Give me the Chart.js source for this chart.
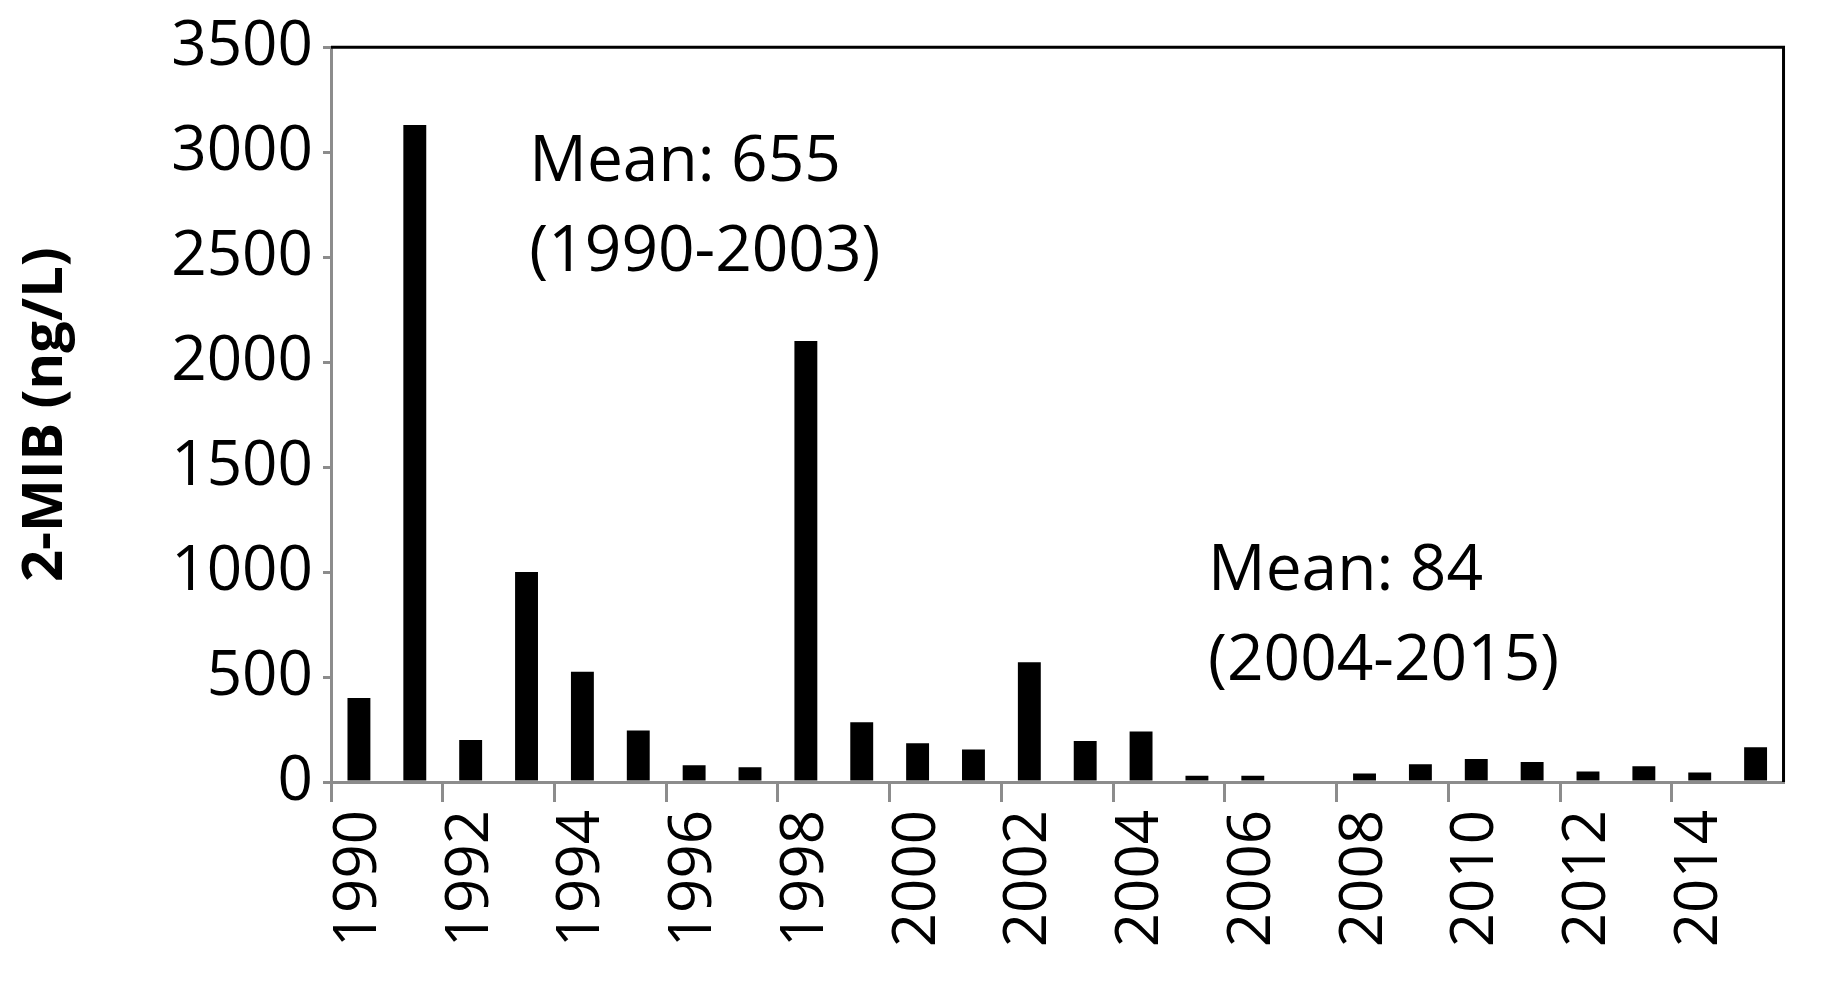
<!DOCTYPE html>
<html>
<head>
<meta charset="utf-8">
<script src="https://cdn.jsdelivr.net/npm/chart.js@4"></script>
<style>
  html, body { margin: 0; background: #fff; }
  canvas { display: block; }
</style>
</head>
<body>
<canvas id="c" width="1836" height="984"></canvas>
<script>
const years = ['1990','1991','1992','1993','1994','1995','1996','1997','1998','1999','2000','2001','2002',
  '2003','2004','2005','2006','2007','2008','2009','2010','2011','2012','2013','2014','2015'];
const mib = [400, 3130, 200, 1000, 525, 245, 80, 70, 2100, 285, 185, 155, 570,
  195, 240, 30, 30, 0, 40, 85, 110, 95, 50, 75, 45, 165];
const notes = [
  { lines: ['Mean: 655', '(1990-2003)'], at: 3.05, y: 2950 },
  { lines: ['Mean: 84', '(2004-2015)'], at: 15.2, y: 1000 }
];

const FONT = '"Open Sans", "Liberation Sans", sans-serif';
const AXIS_GRAY = '#8c8c8c';

// black frame on top and right, and the two text notes
const extras = {
  id: 'extras',
  afterDraw(chart) {
    const { ctx, chartArea: a, scales } = chart;
    ctx.save();
    ctx.strokeStyle = '#000';
    ctx.lineWidth = 3;
    ctx.beginPath();
    ctx.moveTo(a.left, a.top);
    ctx.lineTo(a.right, a.top);
    ctx.lineTo(a.right, a.bottom);
    ctx.stroke();
    ctx.fillStyle = '#000';
    ctx.font = '64px ' + FONT;
    ctx.textBaseline = 'middle';
    const step = scales.x.getPixelForValue(1) - scales.x.getPixelForValue(0);
    notes.forEach(n => {
      const x = scales.x.getPixelForValue(0) + n.at * step;
      const y = scales.y.getPixelForValue(n.y);
      n.lines.forEach((t, i) => ctx.fillText(t, x, y + i * 90));
    });
    ctx.restore();
  }
};

new Chart(document.getElementById('c'), {
  type: 'bar',
  data: {
    labels: years,
    datasets: [{ data: mib, backgroundColor: '#000', barPercentage: 0.41, categoryPercentage: 1 }]
  },
  options: {
    responsive: false,
    animation: false,
    layout: { padding: { top: 43, right: 21, left: 0, bottom: 0 } },
    plugins: { legend: { display: false }, tooltip: { enabled: false } },
    scales: {
      x: {
        offset: true,
        grid: {
          offset: true, drawOnChartArea: false, drawTicks: true, tickLength: 20, lineWidth: 3,
          color: c => c.index % 2 === 0 ? AXIS_GRAY : 'rgba(0,0,0,0)'
        },
        border: { color: AXIS_GRAY, width: 3 },
        ticks: {
          color: '#000', font: { family: FONT, size: 60 }, maxRotation: 90, minRotation: 90,
          autoSkip: false, padding: 8,
          callback: (v, i) => i % 2 === 0 ? years[i] : ''
        },
        afterFit: s => { s.height = 202; }
      },
      y: {
        min: 0, max: 3500,
        grid: { drawOnChartArea: false, tickLength: 8, color: AXIS_GRAY, lineWidth: 3 },
        border: { color: AXIS_GRAY, width: 3 },
        ticks: { stepSize: 500, color: '#000', font: { family: FONT, size: 62 }, padding: 10,
          callback: v => String(v) },
        title: { display: true, text: '2-MIB (ng/L)', color: '#000', font: { family: FONT, size: 56, weight: 'bold' },
          padding: { top: 12, bottom: 0 } },
        afterFit: s => { s.width = 331; }
      }
    }
  },
  plugins: [extras]
});
</script>
</body>
</html>
